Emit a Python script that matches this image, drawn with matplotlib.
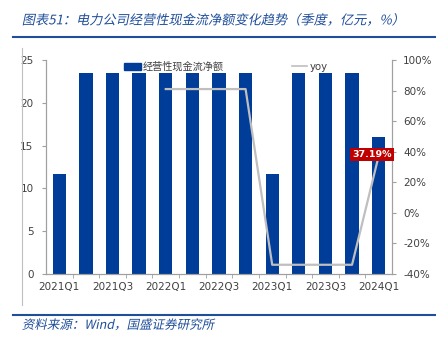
import matplotlib.pyplot as plt
import numpy as np
from matplotlib.patheffects import AbstractPathEffect
from matplotlib.transforms import Affine2D
from matplotlib.lines import Line2D

plt.rcParams['font.family'] = ['DejaVu Sans', 'Noto Sans CJK SC']

quarters = ['2021Q1', '2021Q2', '2021Q3', '2021Q4', '2022Q1', '2022Q2', '2022Q3',
            '2022Q4', '2023Q1', '2023Q2', '2023Q3', '2023Q4', '2024Q1']
cash_flow = [11.7, 23.5, 23.5, 23.5, 23.5, 23.5, 23.5, 23.5, 11.7, 23.5, 23.5, 23.5, 16.0]
yoy = [np.nan, np.nan, np.nan, np.nan, 81, 81, 81, 81, -34, -34, -34, -34, 37.19]


class Slant(AbstractPathEffect):
    """Fake italic: shear the glyph outlines around the text anchor."""
    def __init__(self, angle=12):
        super().__init__()
        self.angle = angle

    def draw_path(self, renderer, gc, tpath, affine, rgbFace=None):
        m = affine.get_matrix()
        x0, y0 = m[0, 2], m[1, 2]
        shear = Affine2D().translate(-x0, -y0).skew_deg(self.angle, 0).translate(x0, y0)
        renderer.draw_path(gc, tpath, affine + shear, rgbFace)


blue = '#003D99'
grey_txt = '#404040'
cjk = ['Noto Sans CJK SC', 'DejaVu Sans']

fig = plt.figure(figsize=(4.36, 3.45), dpi=100)
ax = fig.add_axes([0.1055, 0.206, 0.7935, 0.62])
ax2 = ax.twinx()

x = np.arange(len(quarters))
ax.bar(x, cash_flow, 0.5, color=blue, zorder=2)
ax2.plot(x, yoy, color='#BFBFBF', lw=1.6, zorder=3)

# value tag on the latest yoy point
ax2.annotate(f'{yoy[-1]:.2f}%', (x[-1], yoy[-1]), xytext=(-5, 1),
             textcoords='offset points', ha='center', va='center',
             color='white', fontsize=6.8, fontweight='bold',
             bbox=dict(boxstyle='square,pad=0.25', fc='#C00000', ec='none'), zorder=5)

ax.set_xlim(-0.5, len(quarters) - 0.5)
ax.set_ylim(0, 25)
ax.set_yticks(np.arange(0, 26, 5))
ax2.set_ylim(-40, 100)
ax2.set_yticks(np.arange(-40, 101, 20))
ax2.set_yticklabels([f'{v}%' for v in range(-40, 101, 20)])

ax.set_xticks(x[::2])
ax.set_xticklabels(quarters[::2])
ax.set_xticks(x[:-1] + 0.5, minor=True)
ax.tick_params(axis='x', which='major', length=0, pad=6, labelsize=7.5, labelcolor=grey_txt)
ax.tick_params(axis='x', which='minor', length=3, direction='out', color='#A0A0A0')
ax.tick_params(axis='y', length=3, color='#A0A0A0', labelsize=7.5, labelcolor=grey_txt, pad=6)
ax2.tick_params(axis='y', length=3, color='#A0A0A0', labelsize=7.5, labelcolor=grey_txt, pad=5)

for a in (ax, ax2):
    a.spines['top'].set_visible(False)
    for s in ('left', 'right', 'bottom'):
        a.spines[s].set_color('#A0A0A0')
        a.spines[s].set_linewidth(0.8)

handles = [plt.Rectangle((0, 0), 1, 1, color=blue),
           Line2D([], [], color='#BFBFBF', lw=1.2)]
ax.legend(handles[:1], ['经营性现金流净额'], loc='upper left', bbox_to_anchor=(0.2, 1.035),
          frameon=False, prop={'family': cjk, 'size': 7.3}, labelcolor=grey_txt,
          handlelength=1.6, handleheight=0.8, handletextpad=0.2)
ax2.legend(handles[1:], ['yoy'], loc='upper left', bbox_to_anchor=(0.685, 1.035),
           frameon=False, prop={'size': 7.3}, labelcolor=grey_txt,
           handlelength=1.5, handletextpad=0.2)

# header, footer and frame decorations
fig.text(0.05, 0.94, '图表51：电力公司经营性现金流净额变化趋势（季度，亿元，%）',
         family=cjk, fontsize=9.5, color='#1F4E9A', va='center',
         path_effects=[Slant(12)])
fig.add_artist(Line2D([0.03, 1.0], [0.893, 0.893], color='#1F4E9A', lw=1.5))
fig.add_artist(Line2D([0.05, 0.05], [0.115, 0.86], color='#BFBFBF', lw=0.8))
fig.add_artist(Line2D([0.03, 1.0], [0.087, 0.087], color='#1F4E9A', lw=1.5))
fig.text(0.05, 0.057, '资料来源：Wind，国盛证券研究所', family=cjk, fontsize=9,
         color='#1F4E9A', va='center', path_effects=[Slant(12)])

fig.savefig('out.png', dpi=100)
